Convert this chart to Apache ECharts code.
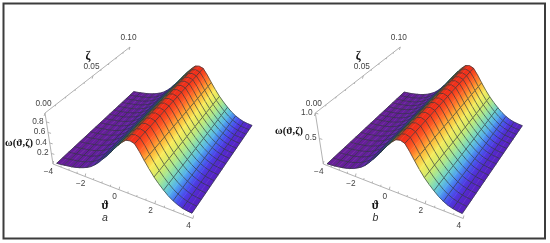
<!DOCTYPE html>
<html>
<head>
<meta charset="utf-8">
<title>omega surfaces</title>
<style>
html, body { margin: 0; padding: 0; background: #fff; }
#chart { width: 550px; height: 243px; filter: blur(0.4px); }
</style>
</head>
<body>
<div id="chart"></div>
<script src="https://cdn.jsdelivr.net/npm/echarts@6/dist/echarts.min.js"></script>
<script>
// grid of the surfaces
var thetaValues = [-4, -3.75, -3.5, -3.25, -3, -2.75, -2.5, -2.25, -2, -1.75, -1.5, -1.25, -1, -0.75, -0.5, -0.25, 0,
	0.25, 0.5, 0.75, 1, 1.25, 1.5, 1.75, 2, 2.25, 2.5, 2.75, 3, 3.25, 3.5, 3.75, 4];
var zetaValues = [0, 0.00625, 0.0125, 0.01875, 0.025, 0.03125, 0.0375, 0.04375, 0.05, 0.05625, 0.0625, 0.06875, 0.075,
	0.08125, 0.0875, 0.09375, 0.1];
// height across the ridge, one value per theta
var omegaA = [0.05, 0.055, 0.065, 0.075, 0.085, 0.1, 0.12, 0.145, 0.175, 0.215, 0.27, 0.335, 0.415, 0.49, 0.575, 0.67, 0.755,
	0.835, 0.9, 0.915, 0.89, 0.78, 0.65, 0.53, 0.42, 0.33, 0.25, 0.18, 0.125, 0.085, 0.055, 0.04, 0.03];
var omegaB = [0.04, 0.045, 0.05, 0.06, 0.07, 0.085, 0.105, 0.13, 0.165, 0.205, 0.26, 0.33, 0.41, 0.49, 0.58, 0.675, 0.765,
	0.845, 0.91, 0.925, 0.895, 0.78, 0.645, 0.52, 0.41, 0.32, 0.24, 0.17, 0.115, 0.075, 0.05, 0.035, 0.025];
// axis ticks
var thetaTicks = [-4, -2, 0, 2, 4];
var thetaMinor = [-3.5, -3, -2.5, -1.5, -1, -0.5, 0.5, 1, 1.5, 2.5, 3, 3.5];
var zetaTicks = [0, 0.05, 0.1];
var zetaLabels = ['0.00', '0.05', '0.10'];
var zetaMinor = [0.01, 0.02, 0.03, 0.04, 0.06, 0.07, 0.08, 0.09];
var omegaTicksA = [0.2, 0.4, 0.6, 0.8];
var omegaLabelsA = ['0.2', '0.4', '0.6', '0.8'];
var omegaTicksB = [0.5, 1];
var omegaLabelsB = ['0.5', '1.0'];

// lit side of the ridge
var rampFront = [
	[0, [92, 26, 165]], [0.05, [84, 40, 205]], [0.1, [72, 72, 238]], [0.15, [72, 132, 242]], [0.22, [88, 198, 232]],
	[0.32, [140, 226, 170]], [0.42, [205, 235, 110]], [0.58, [250, 235, 90]], [0.72, [255, 170, 50]],
	[0.88, [255, 80, 35]], [1, [240, 45, 25]]
];
// side turned away from the light
var rampBack = [
	[0, [105, 30, 150]], [0.2, [95, 30, 160]], [0.4, [60, 45, 175]], [0.55, [45, 85, 150]], [0.7, [40, 115, 115]],
	[0.85, [55, 100, 70]], [0.93, [110, 80, 40]], [1, [240, 50, 25]]
];

var meshColor = 'rgba(40,50,52,0.72)';

function colorAt(ramp, t) {
	t = Math.max(0, Math.min(1, t));
	for (var i = 1; i < ramp.length; i++) {
		if (t <= ramp[i][0]) {
			var a = ramp[i - 1], b = ramp[i];
			var f = (t - a[0]) / (b[0] - a[0]);
			var c = [0, 1, 2].map(function(k) {
				return Math.round(a[1][k] + (b[1][k] - a[1][k]) * f);
			});
			return 'rgb(' + c.join(',') + ')';
		}
	}
	return 'rgb(240,45,25)';
}

function warp(t, k) {
	return t / (t + k * (1 - t));
}

function bilinear(c, u, v) {
	return [0, 1].map(function(n) {
		return (c[0][n] * (1 - u) + c[1][n] * u) * (1 - v) + (c[3][n] * (1 - u) + c[2][n] * u) * v;
	});
}

// one camera per panel, dx moves it sideways
function makePanel(dx, omega, zTop) {
	var base = [[57 + dx, 166], [192 + dx, 215], [252 + dx, 127], [134 + dx, 94]];
	var lift = [[-6, -55], [-2, -60], [0, -53], [-4, -48]];
	function project(theta, zeta, w) {
		var u = warp((theta + 4) / 8, 1.12), v = warp(zeta / 0.1, 0.77);
		var p = bilinear(base, u, v), l = bilinear(lift, u, v);
		return [p[0] + l[0] * w, p[1] + l[1] * w];
	}
	return {
		dx: dx, omega: omega, project: project, zTop: zTop,
		thetaAxis: [[53 + dx, 164], [193 + dx, 218.5]],
		zetaAxis: [[45 + dx, 113], [130 + dx, 47]],
		omegaAxis: [[53 + dx, 164], [45 + dx, 113]]
	};
}

var panelA = makePanel(0, omegaA, 0.97);
var panelB = makePanel(270.3, omegaB, 1);

function nodeColor(panel, i) {
	var o = panel.omega;
	var top = Math.max.apply(null, o);
	var peak = o.indexOf(top);
	return colorAt(i < peak ? rampBack : rampFront, o[i] / top);
}

function surfaceSeries(panel) {
	var cells = [];
	for (var j = zetaValues.length - 2; j >= 0; j--) {
		for (var i = 0; i < thetaValues.length - 1; i++) {
			cells.push([i, j]);
		}
	}
	return {
		type: 'custom',
		coordinateSystem: 'cartesian2d',
		silent: true,
		animation: false,
		clip: false,
		z: 3,
		data: cells,
		renderItem: function(params, api) {
			var i = api.value(0), j = api.value(1);
			function pt(a, b) {
				return api.coord(panel.project(thetaValues[a], zetaValues[b], panel.omega[a]));
			}
			var p00 = pt(i, j), p10 = pt(i + 1, j), p11 = pt(i + 1, j + 1), p01 = pt(i, j + 1);
			// gradient across the cell so the colour bands stay parallel to the zeta edges
			var ex = p01[0] - p00[0], ey = p01[1] - p00[1];
			var len = Math.sqrt(ex * ex + ey * ey) || 1;
			var nx = -ey / len, ny = ex / len;
			var d = (p10[0] - p00[0]) * nx + (p10[1] - p00[1]) * ny;
			if (Math.abs(d) < 0.01) { d = 0.01; }
			var fill = new echarts.graphic.LinearGradient(p00[0], p00[1], p00[0] + nx * d, p00[1] + ny * d, [
				{ offset: 0, color: nodeColor(panel, i) },
				{ offset: 1, color: nodeColor(panel, i + 1) }
			], true);
			var kids = [{
				type: 'polygon',
				shape: { points: [p00, p10, p11, p01] },
				style: { fill: fill, stroke: fill, lineWidth: 0.5 }
			}];
			function edge(a, b) {
				kids.push({
					type: 'line',
					shape: { x1: a[0], y1: a[1], x2: b[0], y2: b[1] },
					style: { stroke: meshColor, lineWidth: 0.9 }
				});
			}
			edge(p01, p11);
			if (j === 0) { edge(p00, p10); }
			if (i % 2 === 0) { edge(p00, p01); }
			if (i === thetaValues.length - 2) { edge(p10, p11); }
			return { type: 'group', children: kids };
		}
	};
}

function alongAxis(axis, t, k) {
	var f = warp(t, k);
	return [axis[0][0] + (axis[1][0] - axis[0][0]) * f, axis[0][1] + (axis[1][1] - axis[0][1]) * f];
}

function axisSeries(panel) {
	var segs = [
		[panel.thetaAxis[0], panel.thetaAxis[1]],
		[panel.zetaAxis[0], panel.zetaAxis[1]],
		[panel.omegaAxis[0], panel.omegaAxis[1]]
	];
	function tick(p, dir, len) {
		segs.push([p, [p[0] + dir[0] * len, p[1] + dir[1] * len]]);
	}
	thetaTicks.forEach(function(v) { tick(alongAxis(panel.thetaAxis, (v + 4) / 8, 1.12), [0.2, -1], 3); });
	thetaMinor.forEach(function(v) { tick(alongAxis(panel.thetaAxis, (v + 4) / 8, 1.12), [0.2, -1], 1.6); });
	zetaTicks.forEach(function(v) { tick(alongAxis(panel.zetaAxis, v / 0.1, 0.77), [-0.3, 1], 3); });
	zetaMinor.forEach(function(v) { tick(alongAxis(panel.zetaAxis, v / 0.1, 0.77), [-0.3, 1], 1.6); });
	var zt = panel === panelA ? omegaTicksA : omegaTicksB;
	zt.forEach(function(v) { tick(alongAxis(panel.omegaAxis, v / panel.zTop, 1), [1, 0.3], 3); });
	return {
		type: 'custom',
		coordinateSystem: 'cartesian2d',
		silent: true,
		animation: false,
		clip: false,
		z: 2,
		data: segs.map(function(s, n) { return [n]; }),
		renderItem: function(params, api) {
			var s = segs[api.value(0)];
			var a = api.coord(s[0]), b = api.coord(s[1]);
			return {
				type: 'line',
				shape: { x1: a[0], y1: a[1], x2: b[0], y2: b[1] },
				style: { stroke: '#a9a9a9', lineWidth: 0.9 }
			};
		}
	};
}

function labelSeries(panel, letter, omegaLabelPos) {
	var tickFont = '8.3px "Liberation Sans"';
	var items = [];
	thetaTicks.forEach(function(v) {
		var p = alongAxis(panel.thetaAxis, (v + 4) / 8, 1.12);
		items.push([String(v).replace('-', '\u2212'), p[0] - 4.5, p[1] + 7.5, tickFont, '#444']);
	});
	zetaTicks.forEach(function(v, n) {
		var p = alongAxis(panel.zetaAxis, v / 0.1, 0.77);
		items.push([zetaLabels[n], p[0] - 1.5, p[1] - 9, tickFont, '#444']);
	});
	var zt = panel === panelA ? omegaTicksA : omegaTicksB;
	var zl = panel === panelA ? omegaLabelsA : omegaLabelsB;
	zt.forEach(function(v, n) {
		var p = alongAxis(panel.omegaAxis, v / panel.zTop, 1);
		items.push([zl[n], p[0] - 8.5, p[1] - 0.5, tickFont, '#444']);
	});
	items.push(['\u03b6', 88 + panel.dx, 57, 'bold 12px "Liberation Serif"', '#111']);
	items.push(['\u03d1', 105 + panel.dx, 206, 'bold 12px "Liberation Serif"', '#111']);
	items.push([letter, 105 + panel.dx, 218, 'italic 10.5px "Liberation Sans"', '#333']);
	items.push(['\u03c9(\u03d1,\u03b6)', omegaLabelPos[0], omegaLabelPos[1], 'bold 10.5px "Liberation Serif"', '#111']);
	return {
		type: 'custom',
		coordinateSystem: 'cartesian2d',
		silent: true,
		animation: false,
		clip: false,
		z: 4,
		data: items.map(function(s, n) { return [n]; }),
		renderItem: function(params, api) {
			var it = items[api.value(0)];
			var c = api.coord([it[1], it[2]]);
			return {
				type: 'text',
				style: { text: it[0], x: c[0], y: c[1], font: it[3], fill: it[4], align: 'center', verticalAlign: 'middle' }
			};
		}
	};
}

var chart = echarts.init(document.getElementById('chart'), null, { renderer: 'canvas' });
chart.setOption({
	animation: false,
	backgroundColor: '#fff',
	grid: { left: 0, right: 0, top: 0, bottom: 0 },
	xAxis: { type: 'value', min: 0, max: 550, show: false },
	yAxis: { type: 'value', min: 0, max: 243, inverse: true, show: false },
	graphic: [{
		type: 'rect',
		shape: { x: 3.5, y: 3.5, width: 541.5, height: 235 },
		style: { fill: 'none', stroke: '#3c3c3c', lineWidth: 2 },
		z: 10
	}],
	series: [
		axisSeries(panelA), surfaceSeries(panelA), labelSeries(panelA, 'a', [19, 143]),
		axisSeries(panelB), surfaceSeries(panelB), labelSeries(panelB, 'b', [289, 131])
	]
});
</script>
</body>
</html>
